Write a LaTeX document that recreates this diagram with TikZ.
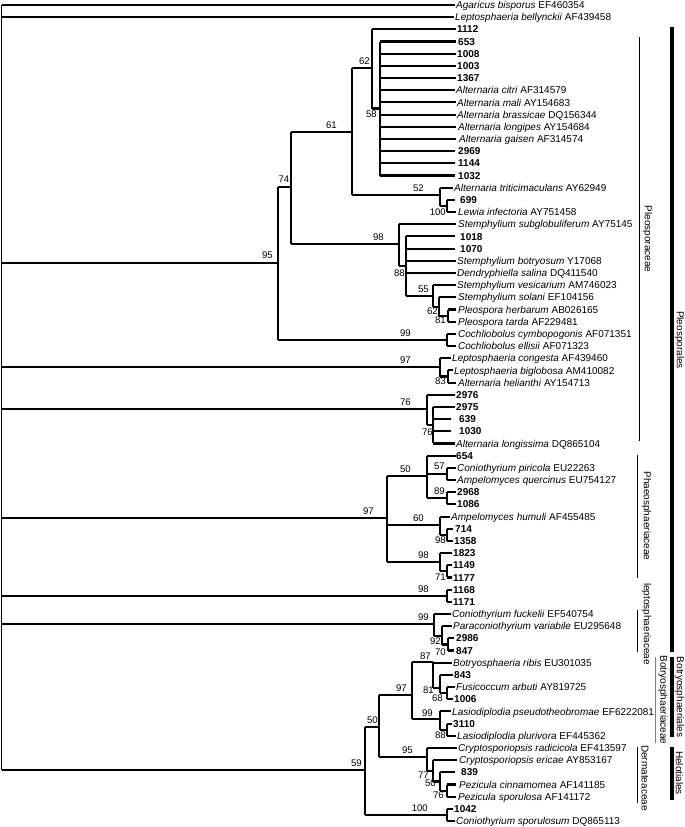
\documentclass[tikz,border=0pt]{standalone}
\usepackage{fontspec}
\setmainfont{Liberation Sans}
\newcommand\Leaf[4]{%
  \coordinate (L#1) at (#2,{5+12.18*(#1-1)});
  \node[lf] (T#1) at (#3,{5+12.18*(#1-1)+3.6}) {#4};}
\newcommand\Vt[3]{\draw[vl] (#1 |- #2) -- (#1 |- #3);}
\newcommand\Br[2]{\draw[hl] (#1 |- #2) -- (#2);}
\begin{document}
\begin{tikzpicture}[x=1pt,y=-1pt,
  hl/.style={line width=2.1pt},
  vl/.style={line width=1.1pt},
  lf/.style={inner sep=0pt,anchor=base west,font=\fontsize{10}{12}\selectfont},
  bs/.style={inner sep=0pt,font=\fontsize{9.6}{10}\selectfont},
  grp/.style={inner sep=0pt,rotate=-90,font=\fontsize{10}{12}\selectfont},
  thin/.style={line width=0.9pt},
  thick bar/.style={line width=3.4pt}]
\useasboundingbox (0,0) rectangle (685,827);
% ---------- leaves ----------
\Leaf{1}{455}{456}{\textit{Agaricus bisporus} EF460354}
\Leaf{2}{454}{455}{\textit{Leptosphaeria bellynckii} AF439458}
\Leaf{3}{456}{457}{\textbf{1112}}
\Leaf{4}{456}{458}{\textbf{653}}
\Leaf{5}{456}{457}{\textbf{1008}}
\Leaf{6}{456}{457}{\textbf{1003}}
\Leaf{7}{456}{457}{\textbf{1367}}
\Leaf{8}{455}{456}{\textit{Alternaria citri} AF314579}
\Leaf{9}{456}{457}{\textit{Alternaria mali} AY154683}
\Leaf{10}{456}{457}{\textit{Alternaria brassicae} DQ156344}
\Leaf{11}{456}{458}{\textit{Alternaria longipes} AY154684}
\Leaf{12}{456}{459}{\textit{Alternaria gaisen} AF314574}
\Leaf{13}{455}{458}{\textbf{2969}}
\Leaf{14}{455}{458}{\textbf{1144}}
\Leaf{15}{455}{458}{\textbf{1032}}
\Leaf{16}{453}{454}{\textit{Alternaria triticimaculans} AY62949}
\Leaf{17}{455}{460}{\textbf{699}}
\Leaf{18}{456}{458}{\textit{Lewia infectoria} AY751458}
\Leaf{19}{456}{458}{\textit{Stemphylium subglobuliferum} AY75145}
\Leaf{20}{455}{460}{\textbf{1018}}
\Leaf{21}{455}{460}{\textbf{1070}}
\Leaf{22}{456}{457}{\textit{Stemphylium botryosum} Y17068}
\Leaf{23}{456}{457}{\textit{Dendryphiella salina} DQ411540}
\Leaf{24}{456}{457}{\textit{Stemphylium vesicarium} AM746023}
\Leaf{25}{456}{458}{\textit{Stemphylium solani} EF104156}
\Leaf{26}{456}{458}{\textit{Pleospora herbarum} AB026165}
\Leaf{27}{456}{458}{\textit{Pleospora tarda} AF229481}
\Leaf{28}{456}{458}{\textit{Cochliobolus cymbopogonis} AF071351}
\Leaf{29}{456}{458}{\textit{Cochliobolus ellisii} AF071323}
\Leaf{30}{451}{452}{\textit{Leptosphaeria congesta} AF439460}
\Leaf{31}{453}{454}{\textit{Leptosphaeria biglobosa} AM410082}
\Leaf{32}{456}{458}{\textit{Alternaria helianthi} AY154713}
\Leaf{33}{455}{456}{\textbf{2976}}
\Leaf{34}{455}{456}{\textbf{2975}}
\Leaf{35}{451}{459}{\textbf{639}}
\Leaf{36}{451}{459}{\textbf{1030}}
\Leaf{37}{455}{456}{\textit{Alternaria longissima} DQ865104}
\Leaf{38}{456}{456}{\textbf{654}}
\Leaf{39}{456}{457}{\textit{Coniothyrium piricola} EU22263}
\Leaf{40}{456}{457}{\textit{Ampelomyces quercinus} EU754127}
\Leaf{41}{456}{457}{\textbf{2968}}
\Leaf{42}{456}{457}{\textbf{1086}}
\Leaf{43}{450}{451}{\textit{Ampelomyces humuli} AF455485}
\Leaf{44}{453}{455}{\textbf{714}}
\Leaf{45}{453}{454}{\textbf{1358}}
\Leaf{46}{452}{453}{\textbf{1823}}
\Leaf{47}{452}{453}{\textbf{1149}}
\Leaf{48}{452}{453}{\textbf{1177}}
\Leaf{49}{452}{453}{\textbf{1168}}
\Leaf{50}{452}{453}{\textbf{1171}}
\Leaf{51}{451}{452}{\textit{Coniothyrium fuckelii} EF540754}
\Leaf{52}{452}{453}{\textit{Paraconiothyrium variabile} EU295648}
\Leaf{53}{454}{456}{\textbf{2986}}
\Leaf{54}{454}{456}{\textbf{847}}
\Leaf{55}{452}{453}{\textit{Botryosphaeria ribis} EU301035}
\Leaf{56}{453}{454}{\textbf{843}}
\Leaf{57}{455}{456}{\textit{Fusicoccum arbuti} AY819725}
\Leaf{58}{453}{454}{\textbf{1006}}
\Leaf{59}{451}{452}{\textit{Lasiodiplodia pseudotheobromae} EF6222081}
\Leaf{60}{452}{453}{\textbf{3110}}
\Leaf{61}{456}{457}{\textit{Lasiodiplodia plurivora} EF445362}
\Leaf{62}{457}{458}{\textit{Cryptosporiopsis radicicola} EF413597}
\Leaf{63}{457}{459}{\textit{Cryptosporiopsis ericae} AY853167}
\Leaf{64}{455}{461}{\textbf{839}}
\Leaf{65}{456}{459}{\textit{Pezicula cinnamomea} AF141185}
\Leaf{66}{456}{458}{\textit{Pezicula sporulosa} AF141172}
\Leaf{67}{453}{454}{\textbf{1042}}
\Leaf{68}{455}{456}{\textit{Coniothyrium sporulosum} DQ865113}
% ---------- internal nodes ----------
\coordinate (root) at (1.5,400);
\coordinate (n95) at (278,263);
\coordinate (n74) at (291,187);
\coordinate (n61) at (352,132);
\coordinate (n62) at (372,68);
\coordinate (n58) at (380,108.5);
\coordinate (n52) at (440,195);
\coordinate (n100a) at (447,206);
\coordinate (n98a) at (399,244);
\coordinate (n88) at (406,266);
\coordinate (n55) at (433,296);
\coordinate (n62b) at (439,307);
\coordinate (n81a) at (448,315.6);
\coordinate (n99a) at (447,340);
\coordinate (n97b) at (440,367);
\coordinate (n83) at (448,376.5);
\coordinate (n76a) at (427,409);
\coordinate (n76b) at (433,425);
\coordinate (n97c) at (387,518);
\coordinate (n50a) at (427,476);
\coordinate (n57) at (447,474);
\coordinate (n89) at (447,498.3);
\coordinate (n60) at (440,525);
\coordinate (n98d) at (447,534.8);
\coordinate (n98c) at (440,562);
\coordinate (n71) at (447,571.4);
\coordinate (n98e) at (447,596);
\coordinate (n99f) at (434,624);
\coordinate (n92) at (442,636);
\coordinate (n70) at (448,644.5);
\coordinate (n59) at (365,770);
\coordinate (n50b) at (379,727);
\coordinate (n97d) at (412,695);
\coordinate (n87) at (433,662);
\coordinate (n81b) at (440,688);
\coordinate (n68) at (447,693);
\coordinate (n99b) at (440,719);
\coordinate (n88b) at (447,729.7);
\coordinate (n95b) at (427,757);
\coordinate (n77) at (433,771);
\coordinate (n50c) at (440,781.5);
\coordinate (n76c) at (447,790.6);
\coordinate (n100b) at (447,815);
% ---------- verticals ----------
\Vt{root}{L1}{n59}
\Vt{n95}{n74}{n99a}
\Vt{n74}{n61}{n98a}
\Vt{n61}{n62}{n52}
\Vt{n62}{L3}{n58}
\Vt{n58}{L4}{L15}
\Vt{n52}{L16}{n100a}
\Vt{n100a}{L17}{L18}
\Vt{n98a}{L19}{n88}
\Vt{n88}{L20}{n55}
\Vt{n55}{L24}{n62b}
\Vt{n62b}{L25}{n81a}
\Vt{n81a}{L26}{L27}
\Vt{n99a}{L28}{L29}
\Vt{n97b}{L30}{n83}
\Vt{n83}{L31}{L32}
\Vt{n76a}{L33}{n76b}
\Vt{n76b}{L34}{L37}
\Vt{n97c}{n50a}{n98c}
\Vt{n50a}{L38}{n89}
\Vt{n57}{L39}{L40}
\Vt{n89}{L41}{L42}
\Vt{n60}{L43}{n98d}
\Vt{n98d}{L44}{L45}
\Vt{n98c}{L46}{n71}
\Vt{n71}{L47}{L48}
\Vt{n98e}{L49}{L50}
\Vt{n99f}{L51}{n92}
\Vt{n92}{L52}{n70}
\Vt{n70}{L53}{L54}
\Vt{n59}{n50b}{n100b}
\Vt{n50b}{n97d}{n95b}
\Vt{n97d}{n87}{n99b}
\Vt{n87}{L55}{n81b}
\Vt{n81b}{L56}{n68}
\Vt{n68}{L57}{L58}
\Vt{n99b}{L59}{n88b}
\Vt{n88b}{L60}{L61}
\Vt{n95b}{L62}{n77}
\Vt{n77}{L63}{n50c}
\Vt{n50c}{L64}{n76c}
\Vt{n76c}{L65}{L66}
\Vt{n100b}{L67}{L68}
% ---------- horizontals ----------
\Br{root}{L1} \Br{root}{L2} \Br{root}{n95} \Br{root}{n97b} \Br{root}{n76a}
\Br{root}{n97c} \Br{root}{n98e} \Br{root}{n99f} \Br{root}{n59}
\Br{n95}{n74} \Br{n95}{n99a}
\Br{n74}{n61} \Br{n74}{n98a}
\Br{n61}{n62} \Br{n61}{n52}
\Br{n62}{L3} \Br{n62}{n58}
\foreach \i in {4,...,15}{\Br{n58}{L\i}}
\Br{n52}{L16} \Br{n52}{n100a}
\Br{n100a}{L17} \Br{n100a}{L18}
\Br{n98a}{L19} \Br{n98a}{n88}
\foreach \i in {20,...,23}{\Br{n88}{L\i}}
\Br{n88}{n55}
\Br{n55}{L24} \Br{n55}{n62b}
\Br{n62b}{L25} \Br{n62b}{n81a}
\Br{n81a}{L26} \Br{n81a}{L27}
\Br{n99a}{L28} \Br{n99a}{L29}
\Br{n97b}{L30} \Br{n97b}{n83}
\Br{n83}{L31} \Br{n83}{L32}
\Br{n76a}{L33} \Br{n76a}{n76b}
\foreach \i in {34,...,37}{\Br{n76b}{L\i}}
\Br{n97c}{n50a} \Br{n97c}{n60} \Br{n97c}{n98c}
\Br{n50a}{L38} \Br{n50a}{n57} \Br{n50a}{n89}
\Br{n57}{L39} \Br{n57}{L40}
\Br{n89}{L41} \Br{n89}{L42}
\Br{n60}{L43} \Br{n60}{n98d}
\Br{n98d}{L44} \Br{n98d}{L45}
\Br{n98c}{L46} \Br{n98c}{n71}
\Br{n71}{L47} \Br{n71}{L48}
\Br{n98e}{L49} \Br{n98e}{L50}
\Br{n99f}{L51} \Br{n99f}{n92}
\Br{n92}{L52} \Br{n92}{n70}
\Br{n70}{L53} \Br{n70}{L54}
\Br{n59}{n50b} \Br{n59}{n100b}
\Br{n50b}{n97d} \Br{n50b}{n95b}
\Br{n97d}{n87} \Br{n97d}{n99b}
\Br{n87}{L55} \Br{n87}{n81b}
\Br{n81b}{L56} \Br{n81b}{n68}
\Br{n68}{L57} \Br{n68}{L58}
\Br{n99b}{L59} \Br{n99b}{n88b}
\Br{n88b}{L60} \Br{n88b}{L61}
\Br{n95b}{L62} \Br{n95b}{n77}
\Br{n77}{L63} \Br{n77}{n50c}
\Br{n50c}{L64} \Br{n50c}{n76c}
\Br{n76c}{L65} \Br{n76c}{L66}
\Br{n100b}{L67} \Br{n100b}{L68}
% ---------- bootstrap values ----------
\node[bs,anchor=south east] (b95) at (273,259) {95};
\node[bs,anchor=south east] (b74) at (289.5,183) {74};
\node[bs,anchor=south east] (b61) at (337,129) {61};
\node[bs,anchor=south east] (b62) at (370,65) {62};
\node[bs,anchor=north east] (b58) at (377,111) {58};
\node[bs,anchor=south east] (b52) at (424,192) {52};
\node[bs,anchor=east] (b100a) at (446,212.5) {100};
\node[bs,anchor=south east] (b98a) at (384,241) {98};
\node[bs,anchor=north east] (b88) at (405,269.5) {88};
\node[bs,anchor=south east] (b55) at (429,293) {55};
\node[bs,anchor=east] (b62b) at (438,311) {62};
\node[bs,anchor=east] (b81a) at (446,320) {81};
\node[bs,anchor=south east] (b99a) at (411,337) {99};
\node[bs,anchor=south east] (b97b) at (411,364) {97};
\node[bs,anchor=east] (b83) at (446,381) {83};
\node[bs,anchor=south east] (b76a) at (411,406) {76};
\node[bs,anchor=east] (b76b) at (433,432) {76};
\node[bs,anchor=south east] (b50a) at (411,473) {50};
\node[bs,anchor=east] (b57) at (445,466) {57};
\node[bs,anchor=east] (b89) at (445,491) {89};
\node[bs,anchor=south east] (b97c) at (374,515) {97};
\node[bs,anchor=south east] (b60) at (424,522) {60};
\node[bs,anchor=east] (b98d) at (446,540) {98};
\node[bs,anchor=south east] (b98c) at (429,559) {98};
\node[bs,anchor=east] (b71) at (446,577) {71};
\node[bs,anchor=south east] (b98e) at (429,593) {98};
\node[bs,anchor=south east] (b99f) at (429,621) {99};
\node[bs,anchor=east] (b92) at (441,641) {92};
\node[bs,anchor=east] (b70) at (446,652) {70};
\node[bs,anchor=south east] (b87) at (431,660) {87};
\node[bs,anchor=east] (b81b) at (434,690) {81};
\node[bs,anchor=east] (b68) at (443,698.5) {68};
\node[bs,anchor=south east] (b97d) at (407,692) {97};
\node[bs,anchor=south east] (b99b) at (433,717) {99};
\node[bs,anchor=east] (b88b) at (446,735) {88};
\node[bs,anchor=south east] (b50b) at (378,724) {50};
\node[bs,anchor=south east] (b95b) at (413,754) {95};
\node[bs,anchor=east] (b77) at (429,775) {77};
\node[bs,anchor=east] (b50c) at (436,783) {50};
\node[bs,anchor=east] (b76c) at (444,795) {76};
\node[bs,anchor=south east] (b59) at (362,767) {59};
\node[bs,anchor=south east] (b100b) at (428,812) {100};
% ---------- group annotations ----------
\draw[thin] (639,37) -- (639,441);
\node[grp] (gPleosporaceae) at (647.5,239) {Pleosporaceae};
\draw[thick bar] (672,27) -- (672,652);
\node[grp] (gPleosporales) at (679.5,340) {Pleosporales};
\draw[thin] (637,455) -- (637,578);
\node[grp] (gPhaeo) at (646.5,516) {Phaeosphaeriaceae};
\draw[thin] (637,610) -- (637,652);
\node[grp] (gLepto) at (646.5,624) {leptosphaeriaceae};
\draw[thin,gray] (655,657) -- (655,743);
\node[grp] (gBotryaceae) at (663,700) {Botryosphaeriaceae};
\draw[thick bar] (672,657) -- (672,737);
\node[grp] (gBotryales) at (679.5,697) {Botryosphaeriales};
\draw[thin] (637,747) -- (637,803);
\node[grp] (gDerm) at (645,778) {Dermateaceae};
\draw[thick bar] (672,747) -- (672,800);
\node[grp] (gHelot) at (679.5,773) {Helotiales};
\end{tikzpicture}
\end{document}
